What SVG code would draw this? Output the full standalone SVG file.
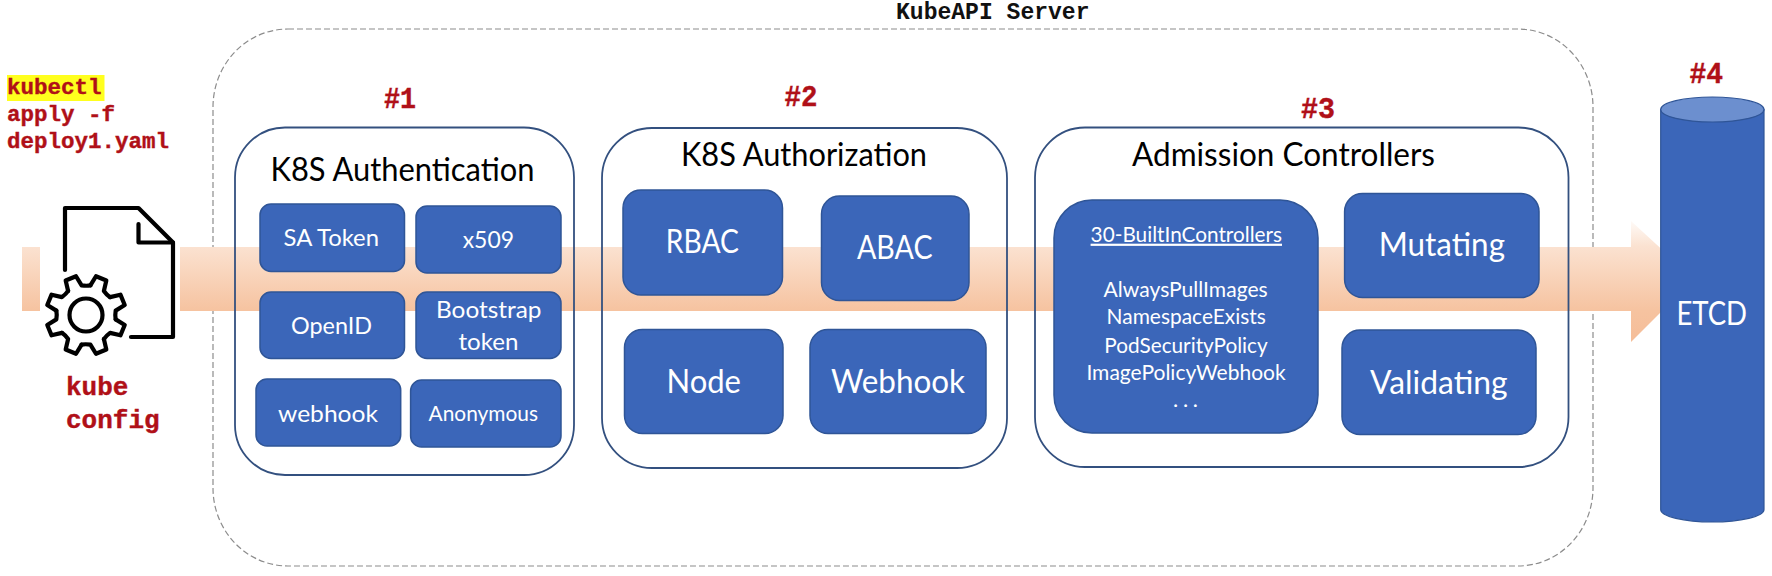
<svg xmlns="http://www.w3.org/2000/svg" xmlns:xlink="http://www.w3.org/1999/xlink" width="1772" height="576" viewBox="0 0 1772 576">
<style>
text{font-family:"Lato","Liberation Sans",sans-serif;}
.m{font-family:"Liberation Mono","Courier New",monospace;font-weight:700;}
.r{fill:#b01018;stroke:#b01018;stroke-width:.4;}
.ttl{fill:#000;font-size:33px;}
.w{fill:#fff;}
.b{fill:#3b66b9;stroke:#2f5597;stroke-width:1.5;}
.p{fill:none;stroke:#33507f;stroke-width:1.8;}
.ic{fill:none;stroke:#000;stroke-width:4.2;stroke-linecap:round;stroke-linejoin:round;}
</style>
<defs>
<linearGradient id="g" gradientUnits="userSpaceOnUse" x1="0" y1="216" x2="0" y2="342">
<stop offset="0" stop-color="#ffffff"/><stop offset="0.24" stop-color="#fbe2d1"/><stop offset="0.75" stop-color="#f6c3a0"/><stop offset="1" stop-color="#f5bd98"/>
</linearGradient>
<path id="t" d="M-7.3-29.1 L-5.6-39.6 L5.6-39.6 L7.3-29.1 Q11.5-26.5 15.4-25.7"/>
</defs>
<rect width="1772" height="576" fill="#fff"/>
<g id="kubeapi-server">
<rect x="213" y="29" width="1380" height="537" rx="75" ry="78" fill="none" stroke="#8c8c8c" stroke-width="1.2" stroke-dasharray="6 3"/>
<text class="m" x="896" y="18.500" font-size="23" fill="#111" textLength="193.500" lengthAdjust="spacingAndGlyphs">KubeAPI Server</text>
</g>
<g id="connectors">
<path d="M22 247H1631V221L1694 279L1631 342V311H22Z" fill="url(#g)"/>
</g>
<g id="kubectl-command">
<rect x="7" y="75" width="97.500" height="26" fill="#ffff1e"/>
<text class="m r" x="7" y="93.700" font-size="22.500">kubectl</text>
<text class="m r" x="7" y="121" font-size="22.500">apply -f</text>
<text class="m r" x="7" y="148" font-size="22.500">deploy1.yaml</text>
</g>
<g id="kube-config">
<rect x="40" y="200" width="140" height="150" fill="#fff"/>
<path class="ic" d="M65 270V208H138.500L173 242.500V337H131"/>
<path class="ic" d="M138.500 224V242.500H173"/>
<g class="ic" transform="translate(86 315) rotate(22.5)">
<use xlink:href="#t" href="#t"/>
<use xlink:href="#t" href="#t" transform="rotate(45)"/>
<use xlink:href="#t" href="#t" transform="rotate(90)"/>
<use xlink:href="#t" href="#t" transform="rotate(135)"/>
<use xlink:href="#t" href="#t" transform="rotate(180)"/>
<use xlink:href="#t" href="#t" transform="rotate(225)"/>
<use xlink:href="#t" href="#t" transform="rotate(270)"/>
<use xlink:href="#t" href="#t" transform="rotate(315)"/>
</g>
<circle class="ic" cx="86" cy="315" r="16.500"/>
<text class="m r" x="66" y="395" font-size="26">kube</text>
<text class="m r" x="66" y="428" font-size="26">config</text>
</g>
<g id="step-1-authentication">
<text class="m r" x="384" y="107.500" font-size="30" textLength="32" lengthAdjust="spacingAndGlyphs">#1</text>
<rect class="p" x="235" y="127.500" width="339" height="347.500" rx="50" ry="50"/>
<text class="ttl" x="270.500" y="181" textLength="264" lengthAdjust="spacingAndGlyphs">K8S Authentication</text>
<g id="sa-token"><rect class="b" x="260" y="204" width="144.500" height="67.500" rx="11"/><text class="w" x="283.600" y="246" font-size="24" textLength="95.400" lengthAdjust="spacingAndGlyphs">SA Token</text></g>
<g id="x509"><rect class="b" x="416" y="206" width="145" height="67" rx="11"/><text class="w" x="462.700" y="248" font-size="24" textLength="51.300" lengthAdjust="spacingAndGlyphs">x509</text></g>
<g id="openid"><rect class="b" x="260" y="292" width="144.500" height="66.500" rx="11"/><text class="w" x="291" y="334" font-size="24" textLength="81" lengthAdjust="spacingAndGlyphs">OpenID</text></g>
<g id="bootstrap-token"><rect class="b" x="416" y="292" width="145" height="66.500" rx="11"/><text class="w" x="436" y="318" font-size="24" textLength="105.500" lengthAdjust="spacingAndGlyphs">Bootstrap</text><text class="w" x="458.500" y="350" font-size="24" textLength="60" lengthAdjust="spacingAndGlyphs">token</text></g>
<g id="webhook"><rect class="b" x="256" y="379" width="144.700" height="67" rx="11"/><text class="w" x="278" y="422" font-size="24" textLength="100" lengthAdjust="spacingAndGlyphs">webhook</text></g>
<g id="anonymous"><rect class="b" x="410.600" y="380" width="150.400" height="67" rx="11"/><text class="w" x="428.600" y="421" font-size="21" textLength="109.400" lengthAdjust="spacingAndGlyphs">Anonymous</text></g>
</g>
<g id="step-2-authorization">
<text class="m r" x="784.400" y="105.500" font-size="30" textLength="33" lengthAdjust="spacingAndGlyphs">#2</text>
<rect class="p" x="602" y="128" width="405" height="340" rx="50" ry="50"/>
<text class="ttl" x="681" y="166.400" textLength="246" lengthAdjust="spacingAndGlyphs">K8S Authorization</text>
<g id="rbac"><rect class="b" x="623" y="190" width="159.500" height="105" rx="18"/><text class="w" x="665.800" y="253" font-size="32" textLength="73.200" lengthAdjust="spacingAndGlyphs">RBAC</text></g>
<g id="abac"><rect class="b" x="821.500" y="196" width="147.500" height="104.500" rx="18"/><text class="w" x="857" y="259" font-size="32" textLength="75.500" lengthAdjust="spacingAndGlyphs">ABAC</text></g>
<g id="node"><rect class="b" x="624.500" y="329.500" width="158.500" height="104" rx="18"/><text class="w" x="666.500" y="393" font-size="32" textLength="74.500" lengthAdjust="spacingAndGlyphs">Node</text></g>
<g id="webhook-authz"><rect class="b" x="810" y="329.500" width="176" height="104" rx="18"/><text class="w" x="831" y="393" font-size="32" textLength="134" lengthAdjust="spacingAndGlyphs">Webhook</text></g>
</g>
<g id="step-3-admission">
<text class="m r" x="1301" y="118" font-size="30" textLength="34" lengthAdjust="spacingAndGlyphs">#3</text>
<rect class="p" x="1035" y="127.500" width="533.500" height="339.500" rx="50" ry="50"/>
<text class="ttl" x="1132" y="165.700" textLength="303" lengthAdjust="spacingAndGlyphs">Admission Controllers</text>
<g id="builtin-controllers"><rect class="b" x="1054" y="200" width="264" height="233" rx="38"/>
<text class="w" x="1090.600" y="241.700" font-size="22" text-decoration="underline" textLength="191.400" lengthAdjust="spacingAndGlyphs">30-BuiltInControllers</text>
<text class="w" x="1103.600" y="297" font-size="22" textLength="164.100" lengthAdjust="spacingAndGlyphs">AlwaysPullImages</text>
<text class="w" x="1106.600" y="324.400" font-size="22" textLength="159.200" lengthAdjust="spacingAndGlyphs">NamespaceExists</text>
<text class="w" x="1104.300" y="352.700" font-size="22" textLength="163.400" lengthAdjust="spacingAndGlyphs">PodSecurityPolicy</text>
<text class="w" x="1086.400" y="379.500" font-size="22" textLength="199.300" lengthAdjust="spacingAndGlyphs">ImagePolicyWebhook</text>
<text class="w" x="1173" y="406.700" font-size="22" textLength="25">. . .</text></g>
<g id="mutating"><rect class="b" x="1344.600" y="193.600" width="194.400" height="104" rx="18"/><text class="w" x="1378.700" y="256.400" font-size="32" textLength="126.300" lengthAdjust="spacingAndGlyphs">Mutating</text></g>
<g id="validating"><rect class="b" x="1342" y="330" width="194" height="104.600" rx="18"/><text class="w" x="1370" y="394" font-size="32" textLength="137.600" lengthAdjust="spacingAndGlyphs">Validating</text></g>
</g>
<g id="step-4-etcd">
<text class="m r" x="1689.400" y="82.500" font-size="30" textLength="33.600" lengthAdjust="spacingAndGlyphs">#4</text>
<path d="M1660.700 109.500V509.500A51.650 12.500 0 0 0 1764 509.500V109.500Z" fill="#3b66b9" stroke="#2f5597" stroke-width="1.200"/>
<ellipse cx="1712.350" cy="109.500" rx="51.650" ry="12.500" fill="#6c8fcf" stroke="#2f5597" stroke-width="1.200"/>
<text class="w" x="1676.400" y="325" font-size="32" textLength="70.600" lengthAdjust="spacingAndGlyphs">ETCD</text>
</g>
</svg>
